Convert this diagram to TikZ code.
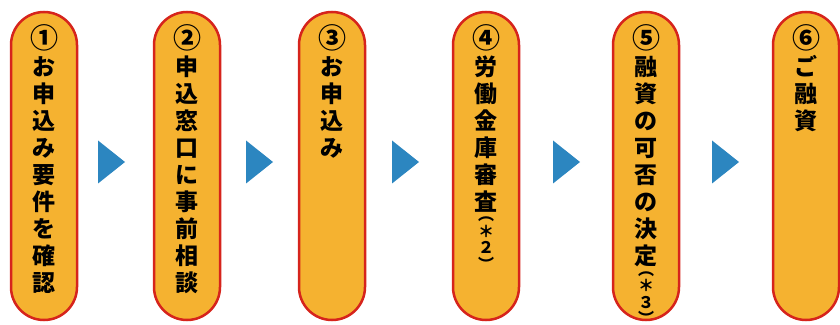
\documentclass[tikz,border=0pt]{standalone}
\usepackage{fontspec}
\newfontfamily\jpfont{Noto Sans CJK JP}
\usetikzlibrary{positioning, calc}
\definecolor{pillfill}{RGB}{245,178,48}
\definecolor{pillline}{RGB}{214,36,28}
\definecolor{triblue}{RGB}{44,134,192}
\tikzset{
  pill/.style={
    rectangle, draw=pillline, fill=pillfill, line width=2.5pt, rounded corners=33pt,
    minimum width=66pt, minimum height=308pt, inner sep=0pt
  },
  tatetext/.style={anchor=north, align=center, inner sep=0pt, font=\jpfont\bfseries\fontsize{23}{27}\selectfont},
  parentext/.style={align=center, inner sep=0pt, font=\jpfont\bfseries\fontsize{16}{16.5}\selectfont},
  tri/.style={fill=triblue}
}
\newcommand{\maru}[1]{{\fontsize{28}{27}\selectfont #1}}

\begin{document}
\begin{tikzpicture}[x=1pt, y=1pt]
    \useasboundingbox (0,0) rectangle (840,324);
    % the six steps
    \node[pill] (s1) at (44,158) {};
    \node[pill] (s2) at (187,158) {};
    \node[pill] (s3) at (332,158) {};
    \node[pill] (s4) at (486,158) {};
    \node[pill] (s5) at (646,158) {};
    \node[pill] (s6) at (806,158) {};
    \node[tatetext] (l1) at ([yshift=-14pt]s1.north) {\maru{①}\\お\\申\\込\\み\\要\\件\\を\\確\\認};
    \node[tatetext] (l2) at ([yshift=-14pt]s2.north) {\maru{②}\\申\\込\\窓\\口\\に\\事\\前\\相\\談};
    \node[tatetext] (l3) at ([yshift=-14pt]s3.north) {\maru{③}\\お\\申\\込\\み};
    \node[tatetext] (l4) at ([yshift=-14pt]s4.north) {\maru{④}\\労\\働\\金\\庫\\審\\査};
    \node[parentext, below=4pt of l4] (p4) {︵\\＊\\２\\︶};
    \node[tatetext] (l5) at ([yshift=-14pt]s5.north) {\maru{⑤}\\融\\資\\の\\可\\否\\の\\決\\定};
    \node[parentext, below=4pt of l5] (p5) {︵\\＊\\３\\︶};
    \node[tatetext] (l6) at ([yshift=-14pt]s6.north) {\maru{⑥}\\ご\\融\\資};
    % arrows between steps
    \coordinate (t1) at (98,162);
    \coordinate (t2) at (246,162);
    \coordinate (t3) at (392,162);
    \coordinate (t4) at (553,162);
    \coordinate (t5) at (712,162);
    \fill[tri] (t1) ++(0,21.5) -- ++(27,-21.5) -- ++(-27,-21.5) -- cycle;
    \fill[tri] (t2) ++(0,21.5) -- ++(27,-21.5) -- ++(-27,-21.5) -- cycle;
    \fill[tri] (t3) ++(0,21.5) -- ++(27,-21.5) -- ++(-27,-21.5) -- cycle;
    \fill[tri] (t4) ++(0,21.5) -- ++(27,-21.5) -- ++(-27,-21.5) -- cycle;
    \fill[tri] (t5) ++(0,21.5) -- ++(27,-21.5) -- ++(-27,-21.5) -- cycle;
\end{tikzpicture}
\end{document}
